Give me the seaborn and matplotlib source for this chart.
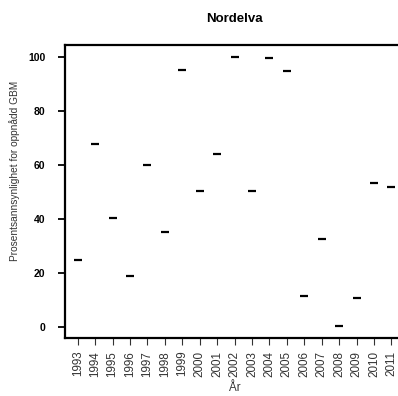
import numpy as np
import pandas as pd
import matplotlib
matplotlib.use("Agg")
import matplotlib.pyplot as plt
import seaborn as sns

years = list(range(1993, 2012))
values = [24.7, 67.6, 40.3, 18.9, 59.9, 35.0, 95.1, 50.2, 63.9, 100.0,
          50.3, 99.3, 94.8, 11.3, 32.6, 0.3, 10.6, 53.2, 51.7]
y_ticks = [0, 20, 40, 60, 80, 100]

df = pd.DataFrame({"year": years, "value": values})

sns.set_style("white")
plt.rcParams["font.family"] = ["Liberation Sans", "DejaVu Sans"]
plt.rcParams["text.color"] = "black"

fig = plt.figure(figsize=(3.98, 3.96), dpi=100)
ax = fig.add_axes([0.1633, 0.1457, 0.852, 0.7414])

sns.scatterplot(data=df, x="year", y="value", marker="_", s=40,
                linewidth=1.6, color="black", ax=ax, legend=False)

ax.set_xlim(1993 - 0.73, 2011 + 0.73)
ax.set_ylim(-4.2, 104.4)
ax.set_xticks(years)
ax.set_xticklabels([str(y) for y in years], rotation=90, fontsize=8.4, color="#333333")
ax.set_yticks(y_ticks)
ax.set_yticklabels([str(t) for t in y_ticks], fontsize=7.5, fontweight="bold", color="black")

for side in ["left", "top", "bottom"]:
    ax.spines[side].set_linewidth(1.6)
    ax.spines[side].set_color("black")
ax.spines["right"].set_visible(False)

ax.tick_params(axis="y", direction="out", length=5, width=1.3, color="black", pad=9, left=True)
ax.tick_params(axis="x", direction="out", length=5, width=0.8, color="#333333", pad=4, bottom=True)

ax.set_title("Nordelva", fontsize=9.5, fontweight="bold", color="black", pad=16)
ax.set_xlabel("År", fontsize=8.4, color="#333333")
ax.set_ylabel("Prosentsannsynlighet for oppnådd GBM", fontsize=7.3, color="#333333")
ax.xaxis.set_label_coords(0.5, -0.148)
ax.yaxis.set_label_coords(-0.133, 0.569)

fig.savefig("out.png", dpi=100)
